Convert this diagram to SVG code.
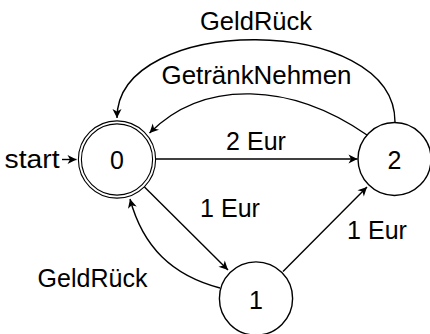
<svg xmlns="http://www.w3.org/2000/svg" width="430" height="334" viewBox="0 0 430 334">
<style>
text{font-family:"Liberation Sans",Arial,sans-serif;font-size:25px;fill:#000;text-anchor:middle}
.st{fill:#fff;stroke:#000;stroke-width:1.4}
.dbl{fill:none;stroke:#000;stroke-width:1.1}
.e{fill:none;stroke:#000;stroke-width:1.4;marker-end:url(#arr)}
</style>
<defs>
<marker id="arr" markerWidth="12" markerHeight="12" refX="10" refY="6" orient="auto" markerUnits="userSpaceOnUse" viewBox="0 0 12 12">
<path d="M10,6 L1,1.5 L3.5,6 L1,10.5 Z" fill="#000"/>
</marker>
</defs>
<g id="edges">
<path class="e" d="M62,159.5 L76.5,159.5"/>
<text x="32" y="167.5" textLength="55" lengthAdjust="spacingAndGlyphs">start</text>
<path class="e" d="M156,159 L357.5,159"/>
<text x="256" y="150">2 Eur</text>
<path class="e" d="M144.5,187 L228,270"/>
<text x="230" y="217">1 Eur</text>
<path class="e" d="M283,271.5 L367,187"/>
<text x="377" y="238.5">1 Eur</text>
<path class="e" d="M220,288 C172,275.4 143,247 130,199"/>
<text x="92.5" y="286.5">GeldRück</text>
<path class="e" d="M367,135 C292,83 204.5,78 149.5,133"/>
<text x="256.5" y="84" textLength="190" lengthAdjust="spacingAndGlyphs">GetränkNehmen</text>
<path class="e" d="M395,122 C395,13 117,13 117,118"/>
<text x="256" y="30" textLength="112" lengthAdjust="spacingAndGlyphs">GeldRück</text>
</g>
<g id="node0">
<circle class="dbl" cx="117" cy="159.5" r="38.6"/>
<circle class="dbl" cx="117" cy="159.5" r="35.6"/>
<text x="117" y="169">0</text>
</g>
<g id="node1">
<circle class="st" cx="256" cy="298.5" r="36.6"/>
<text x="256" y="308.5">1</text>
</g>
<g id="node2">
<circle class="st" cx="394.5" cy="159" r="36.5"/>
<text x="394.5" y="169">2</text>
</g>
</svg>
